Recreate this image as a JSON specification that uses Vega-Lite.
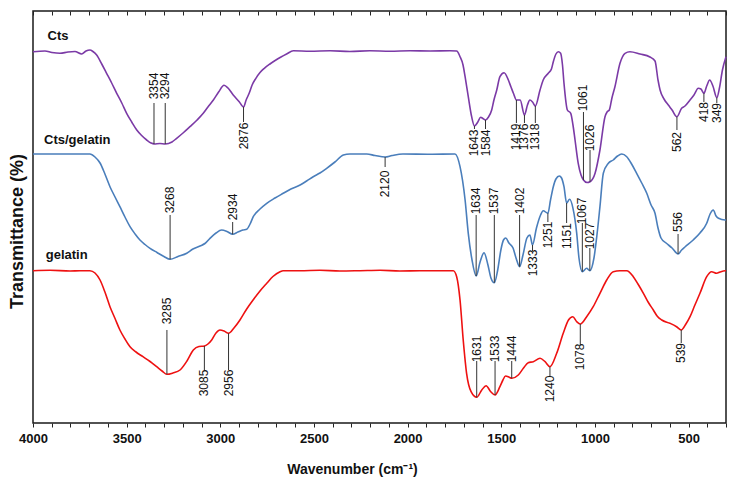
{
"$schema": "https://vega.github.io/schema/vega-lite/v6.json",
"width": 693, "height": 412,
"autosize": {"type": "none"},
"padding": {"left": 33, "top": 11, "right": 11, "bottom": 63},
"background": "white",
"config": {"view": {"stroke": "#1a1a1a", "strokeWidth": 1.5}, "font": "Liberation Sans", "axis": {"grid": false}},
"datasets": {
"spectra": [
{"s":"Cts","wn":4000,"t":371.3},{"s":"Cts","wn":3936,"t":372},{"s":"Cts","wn":3899,"t":370.5},{"s":"Cts","wn":3856,"t":369.7},{"s":"Cts","wn":3813,"t":371},{"s":"Cts","wn":3776,"t":371.5},{"s":"Cts","wn":3740,"t":369},{"s":"Cts","wn":3717,"t":372},{"s":"Cts","wn":3696,"t":373},{"s":"Cts","wn":3680,"t":371.5},{"s":"Cts","wn":3660,"t":368},{"s":"Cts","wn":3633,"t":359},{"s":"Cts","wn":3607,"t":349.7},{"s":"Cts","wn":3580,"t":340},{"s":"Cts","wn":3553,"t":329.7},{"s":"Cts","wn":3526,"t":320},{"s":"Cts","wn":3500,"t":309.7},{"s":"Cts","wn":3473,"t":301},{"s":"Cts","wn":3446,"t":293},{"s":"Cts","wn":3420,"t":287.5},{"s":"Cts","wn":3393,"t":283},{"s":"Cts","wn":3370,"t":280},{"s":"Cts","wn":3354,"t":279},{"s":"Cts","wn":3322,"t":279.5},{"s":"Cts","wn":3294,"t":279},{"s":"Cts","wn":3258,"t":281},{"s":"Cts","wn":3233,"t":284.7},{"s":"Cts","wn":3199,"t":290},{"s":"Cts","wn":3162,"t":296.3},{"s":"Cts","wn":3124,"t":303},{"s":"Cts","wn":3091,"t":309.7},{"s":"Cts","wn":3066,"t":316},{"s":"Cts","wn":3037,"t":323},{"s":"Cts","wn":3009,"t":331},{"s":"Cts","wn":2980,"t":337.7},{"s":"Cts","wn":2959,"t":335},{"s":"Cts","wn":2931,"t":328},{"s":"Cts","wn":2899,"t":321.3},{"s":"Cts","wn":2876,"t":316},{"s":"Cts","wn":2862,"t":323},{"s":"Cts","wn":2846,"t":329.7},{"s":"Cts","wn":2830,"t":338},{"s":"Cts","wn":2810,"t":344.7},{"s":"Cts","wn":2788,"t":350.5},{"s":"Cts","wn":2765,"t":354.7},{"s":"Cts","wn":2735,"t":359},{"s":"Cts","wn":2703,"t":363},{"s":"Cts","wn":2676,"t":366},{"s":"Cts","wn":2646,"t":369},{"s":"Cts","wn":2610,"t":372.3},{"s":"Cts","wn":2521,"t":371.7},{"s":"Cts","wn":2414,"t":372.3},{"s":"Cts","wn":2308,"t":371.5},{"s":"Cts","wn":2201,"t":372.3},{"s":"Cts","wn":2094,"t":371.7},{"s":"Cts","wn":1987,"t":372.3},{"s":"Cts","wn":1880,"t":372},{"s":"Cts","wn":1774,"t":372.3},{"s":"Cts","wn":1738,"t":372},{"s":"Cts","wn":1720,"t":366.3},{"s":"Cts","wn":1704,"t":358},{"s":"Cts","wn":1693,"t":346.3},{"s":"Cts","wn":1676,"t":326.3},{"s":"Cts","wn":1658,"t":306.3},{"s":"Cts","wn":1643,"t":297},{"s":"Cts","wn":1625,"t":301},{"s":"Cts","wn":1610,"t":305.7},{"s":"Cts","wn":1598,"t":304.5},{"s":"Cts","wn":1584,"t":303},{"s":"Cts","wn":1568,"t":306},{"s":"Cts","wn":1551,"t":313},{"s":"Cts","wn":1539,"t":323},{"s":"Cts","wn":1524,"t":333},{"s":"Cts","wn":1507,"t":346.3},{"s":"Cts","wn":1485,"t":350.3},{"s":"Cts","wn":1462,"t":343},{"s":"Cts","wn":1448,"t":336},{"s":"Cts","wn":1435,"t":329.7},{"s":"Cts","wn":1419,"t":323},{"s":"Cts","wn":1399,"t":323},{"s":"Cts","wn":1376,"t":308},{"s":"Cts","wn":1360,"t":318},{"s":"Cts","wn":1347,"t":323},{"s":"Cts","wn":1333,"t":321},{"s":"Cts","wn":1318,"t":317},{"s":"Cts","wn":1293,"t":333},{"s":"Cts","wn":1276,"t":343},{"s":"Cts","wn":1249,"t":349.7},{"s":"Cts","wn":1232,"t":354},{"s":"Cts","wn":1222,"t":361.3},{"s":"Cts","wn":1208,"t":369},{"s":"Cts","wn":1195,"t":371.3},{"s":"Cts","wn":1183,"t":369.7},{"s":"Cts","wn":1173,"t":358},{"s":"Cts","wn":1165,"t":339.7},{"s":"Cts","wn":1147,"t":313},{"s":"Cts","wn":1129,"t":309.7},{"s":"Cts","wn":1117,"t":298},{"s":"Cts","wn":1106,"t":283},{"s":"Cts","wn":1089,"t":259.7},{"s":"Cts","wn":1074,"t":248},{"s":"Cts","wn":1061,"t":243},{"s":"Cts","wn":1042,"t":240.5},{"s":"Cts","wn":1026,"t":241.3},{"s":"Cts","wn":999,"t":249.7},{"s":"Cts","wn":973,"t":273},{"s":"Cts","wn":946,"t":306.3},{"s":"Cts","wn":935,"t":311},{"s":"Cts","wn":923,"t":313},{"s":"Cts","wn":909,"t":325},{"s":"Cts","wn":893,"t":336.3},{"s":"Cts","wn":866,"t":359.7},{"s":"Cts","wn":839,"t":369.7},{"s":"Cts","wn":813,"t":371.3},{"s":"Cts","wn":759,"t":369},{"s":"Cts","wn":706,"t":366},{"s":"Cts","wn":679,"t":362},{"s":"Cts","wn":663,"t":343},{"s":"Cts","wn":652,"t":333},{"s":"Cts","wn":631,"t":324},{"s":"Cts","wn":608,"t":318},{"s":"Cts","wn":588,"t":313},{"s":"Cts","wn":562,"t":306.3},{"s":"Cts","wn":537,"t":314.7},{"s":"Cts","wn":519,"t":317},{"s":"Cts","wn":492,"t":323},{"s":"Cts","wn":471,"t":328},{"s":"Cts","wn":448,"t":334.7},{"s":"Cts","wn":434,"t":334},{"s":"Cts","wn":418,"t":329.7},{"s":"Cts","wn":403,"t":337},{"s":"Cts","wn":387,"t":343},{"s":"Cts","wn":370,"t":337},{"s":"Cts","wn":349,"t":325.3},{"s":"Cts","wn":335,"t":335},{"s":"Cts","wn":319,"t":353},{"s":"Cts","wn":300,"t":366.3},
{"s":"Cts/gelatin","wn":4000,"t":269},{"s":"Cts/gelatin","wn":3696,"t":269},{"s":"Cts/gelatin","wn":3669,"t":266},{"s":"Cts/gelatin","wn":3642,"t":260},{"s":"Cts/gelatin","wn":3616,"t":249},{"s":"Cts/gelatin","wn":3589,"t":236.3},{"s":"Cts/gelatin","wn":3562,"t":226},{"s":"Cts/gelatin","wn":3536,"t":216.3},{"s":"Cts/gelatin","wn":3509,"t":206},{"s":"Cts/gelatin","wn":3482,"t":196.3},{"s":"Cts/gelatin","wn":3455,"t":189},{"s":"Cts/gelatin","wn":3429,"t":183},{"s":"Cts/gelatin","wn":3402,"t":178.5},{"s":"Cts/gelatin","wn":3375,"t":174.7},{"s":"Cts/gelatin","wn":3338,"t":170.5},{"s":"Cts/gelatin","wn":3301,"t":166.5},{"s":"Cts/gelatin","wn":3268,"t":163.7},{"s":"Cts/gelatin","wn":3226,"t":166.5},{"s":"Cts/gelatin","wn":3179,"t":169.7},{"s":"Cts/gelatin","wn":3146,"t":174},{"s":"Cts/gelatin","wn":3108,"t":177},{"s":"Cts/gelatin","wn":3082,"t":179.5},{"s":"Cts/gelatin","wn":3055,"t":184.7},{"s":"Cts/gelatin","wn":3023,"t":190},{"s":"Cts/gelatin","wn":2993,"t":193},{"s":"Cts/gelatin","wn":2964,"t":191.5},{"s":"Cts/gelatin","wn":2934,"t":188.7},{"s":"Cts/gelatin","wn":2906,"t":191},{"s":"Cts/gelatin","wn":2879,"t":193},{"s":"Cts/gelatin","wn":2859,"t":193.7},{"s":"Cts/gelatin","wn":2841,"t":199},{"s":"Cts/gelatin","wn":2824,"t":206.3},{"s":"Cts/gelatin","wn":2788,"t":214},{"s":"Cts/gelatin","wn":2752,"t":219.7},{"s":"Cts/gelatin","wn":2708,"t":225},{"s":"Cts/gelatin","wn":2664,"t":229.7},{"s":"Cts/gelatin","wn":2623,"t":234},{"s":"Cts/gelatin","wn":2574,"t":238},{"s":"Cts/gelatin","wn":2539,"t":242},{"s":"Cts/gelatin","wn":2504,"t":246.3},{"s":"Cts/gelatin","wn":2468,"t":250},{"s":"Cts/gelatin","wn":2432,"t":254.7},{"s":"Cts/gelatin","wn":2388,"t":261},{"s":"Cts/gelatin","wn":2343,"t":268},{"s":"Cts/gelatin","wn":2308,"t":269},{"s":"Cts/gelatin","wn":2218,"t":269},{"s":"Cts/gelatin","wn":2174,"t":267.5},{"s":"Cts/gelatin","wn":2120,"t":266},{"s":"Cts/gelatin","wn":2083,"t":267.5},{"s":"Cts/gelatin","wn":2025,"t":269},{"s":"Cts/gelatin","wn":1880,"t":268.7},{"s":"Cts/gelatin","wn":1747,"t":269},{"s":"Cts/gelatin","wn":1720,"t":256.3},{"s":"Cts/gelatin","wn":1693,"t":223},{"s":"Cts/gelatin","wn":1676,"t":189.7},{"s":"Cts/gelatin","wn":1656,"t":163},{"s":"Cts/gelatin","wn":1634,"t":147},{"s":"Cts/gelatin","wn":1613,"t":161},{"s":"Cts/gelatin","wn":1592,"t":170.3},{"s":"Cts/gelatin","wn":1571,"t":158},{"s":"Cts/gelatin","wn":1555,"t":145},{"s":"Cts/gelatin","wn":1537,"t":140.3},{"s":"Cts/gelatin","wn":1519,"t":153},{"s":"Cts/gelatin","wn":1502,"t":173},{"s":"Cts/gelatin","wn":1488,"t":183},{"s":"Cts/gelatin","wn":1476,"t":185},{"s":"Cts/gelatin","wn":1459,"t":180},{"s":"Cts/gelatin","wn":1437,"t":175},{"s":"Cts/gelatin","wn":1421,"t":165},{"s":"Cts/gelatin","wn":1402,"t":156.3},{"s":"Cts/gelatin","wn":1384,"t":168},{"s":"Cts/gelatin","wn":1363,"t":185},{"s":"Cts/gelatin","wn":1347,"t":188},{"s":"Cts/gelatin","wn":1333,"t":178},{"s":"Cts/gelatin","wn":1312,"t":195},{"s":"Cts/gelatin","wn":1290,"t":208},{"s":"Cts/gelatin","wn":1276,"t":212.3},{"s":"Cts/gelatin","wn":1251,"t":209.7},{"s":"Cts/gelatin","wn":1237,"t":223},{"s":"Cts/gelatin","wn":1222,"t":236.3},{"s":"Cts/gelatin","wn":1208,"t":244},{"s":"Cts/gelatin","wn":1190,"t":247},{"s":"Cts/gelatin","wn":1178,"t":245},{"s":"Cts/gelatin","wn":1165,"t":236.3},{"s":"Cts/gelatin","wn":1151,"t":220},{"s":"Cts/gelatin","wn":1135,"t":223.7},{"s":"Cts/gelatin","wn":1117,"t":214.7},{"s":"Cts/gelatin","wn":1097,"t":189.7},{"s":"Cts/gelatin","wn":1085,"t":165},{"s":"Cts/gelatin","wn":1067,"t":151.3},{"s":"Cts/gelatin","wn":1044,"t":154.7},{"s":"Cts/gelatin","wn":1027,"t":152.3},{"s":"Cts/gelatin","wn":1005,"t":165},{"s":"Cts/gelatin","wn":989,"t":188},{"s":"Cts/gelatin","wn":973,"t":216.3},{"s":"Cts/gelatin","wn":955,"t":249.7},{"s":"Cts/gelatin","wn":928,"t":259.7},{"s":"Cts/gelatin","wn":902,"t":263},{"s":"Cts/gelatin","wn":879,"t":267},{"s":"Cts/gelatin","wn":857,"t":269},{"s":"Cts/gelatin","wn":830,"t":266.3},{"s":"Cts/gelatin","wn":804,"t":259},{"s":"Cts/gelatin","wn":777,"t":249.7},{"s":"Cts/gelatin","wn":750,"t":240},{"s":"Cts/gelatin","wn":723,"t":229.7},{"s":"Cts/gelatin","wn":700,"t":218},{"s":"Cts/gelatin","wn":679,"t":209.7},{"s":"Cts/gelatin","wn":663,"t":195},{"s":"Cts/gelatin","wn":647,"t":185},{"s":"Cts/gelatin","wn":620,"t":180},{"s":"Cts/gelatin","wn":588,"t":175},{"s":"Cts/gelatin","wn":556,"t":169},{"s":"Cts/gelatin","wn":537,"t":173},{"s":"Cts/gelatin","wn":519,"t":176},{"s":"Cts/gelatin","wn":475,"t":183},{"s":"Cts/gelatin","wn":439,"t":190},{"s":"Cts/gelatin","wn":403,"t":199.7},{"s":"Cts/gelatin","wn":385,"t":209},{"s":"Cts/gelatin","wn":368,"t":213},{"s":"Cts/gelatin","wn":353,"t":207},{"s":"Cts/gelatin","wn":340,"t":204.7},{"s":"Cts/gelatin","wn":305,"t":203},{"s":"Cts/gelatin","wn":300,"t":203},
{"s":"gelatin","wn":4000,"t":152.3},{"s":"gelatin","wn":3909,"t":152.7},{"s":"gelatin","wn":3802,"t":152},{"s":"gelatin","wn":3749,"t":152.3},{"s":"gelatin","wn":3696,"t":152.3},{"s":"gelatin","wn":3669,"t":150},{"s":"gelatin","wn":3642,"t":143},{"s":"gelatin","wn":3616,"t":131},{"s":"gelatin","wn":3589,"t":116.3},{"s":"gelatin","wn":3562,"t":104.5},{"s":"gelatin","wn":3536,"t":93},{"s":"gelatin","wn":3509,"t":84},{"s":"gelatin","wn":3482,"t":76.3},{"s":"gelatin","wn":3450,"t":71},{"s":"gelatin","wn":3413,"t":66.3},{"s":"gelatin","wn":3375,"t":61.5},{"s":"gelatin","wn":3340,"t":56.3},{"s":"gelatin","wn":3311,"t":52},{"s":"gelatin","wn":3285,"t":48.7},{"s":"gelatin","wn":3253,"t":50},{"s":"gelatin","wn":3215,"t":53},{"s":"gelatin","wn":3178,"t":62},{"s":"gelatin","wn":3144,"t":73},{"s":"gelatin","wn":3114,"t":76.5},{"s":"gelatin","wn":3085,"t":77},{"s":"gelatin","wn":3066,"t":79},{"s":"gelatin","wn":3046,"t":83},{"s":"gelatin","wn":3023,"t":90},{"s":"gelatin","wn":3002,"t":93},{"s":"gelatin","wn":2980,"t":92},{"s":"gelatin","wn":2956,"t":89.7},{"s":"gelatin","wn":2927,"t":95},{"s":"gelatin","wn":2895,"t":103},{"s":"gelatin","wn":2859,"t":114},{"s":"gelatin","wn":2825,"t":123},{"s":"gelatin","wn":2788,"t":132},{"s":"gelatin","wn":2752,"t":139.7},{"s":"gelatin","wn":2719,"t":146.5},{"s":"gelatin","wn":2681,"t":151.3},{"s":"gelatin","wn":2665,"t":152.3},{"s":"gelatin","wn":2574,"t":152.3},{"s":"gelatin","wn":2468,"t":152.7},{"s":"gelatin","wn":2361,"t":152},{"s":"gelatin","wn":2254,"t":152.3},{"s":"gelatin","wn":2147,"t":152.7},{"s":"gelatin","wn":2041,"t":152},{"s":"gelatin","wn":1934,"t":152.3},{"s":"gelatin","wn":1827,"t":152.3},{"s":"gelatin","wn":1756,"t":152.3},{"s":"gelatin","wn":1738,"t":146.3},{"s":"gelatin","wn":1720,"t":123},{"s":"gelatin","wn":1703,"t":83},{"s":"gelatin","wn":1685,"t":49.7},{"s":"gelatin","wn":1661,"t":31.3},{"s":"gelatin","wn":1631,"t":25.7},{"s":"gelatin","wn":1604,"t":33},{"s":"gelatin","wn":1581,"t":37.3},{"s":"gelatin","wn":1556,"t":31.3},{"s":"gelatin","wn":1533,"t":28},{"s":"gelatin","wn":1507,"t":36.3},{"s":"gelatin","wn":1491,"t":43},{"s":"gelatin","wn":1477,"t":47},{"s":"gelatin","wn":1457,"t":45.7},{"s":"gelatin","wn":1444,"t":44.7},{"s":"gelatin","wn":1409,"t":48},{"s":"gelatin","wn":1382,"t":54.7},{"s":"gelatin","wn":1356,"t":60.3},{"s":"gelatin","wn":1329,"t":61.3},{"s":"gelatin","wn":1293,"t":64.7},{"s":"gelatin","wn":1266,"t":61.3},{"s":"gelatin","wn":1240,"t":56.3},{"s":"gelatin","wn":1204,"t":69.7},{"s":"gelatin","wn":1169,"t":89.7},{"s":"gelatin","wn":1141,"t":103},{"s":"gelatin","wn":1118,"t":106.3},{"s":"gelatin","wn":1097,"t":101.3},{"s":"gelatin","wn":1078,"t":99},{"s":"gelatin","wn":1044,"t":106.3},{"s":"gelatin","wn":1009,"t":116.3},{"s":"gelatin","wn":973,"t":129.7},{"s":"gelatin","wn":937,"t":143},{"s":"gelatin","wn":902,"t":151.3},{"s":"gelatin","wn":866,"t":152.3},{"s":"gelatin","wn":830,"t":152.3},{"s":"gelatin","wn":795,"t":146.3},{"s":"gelatin","wn":770,"t":139},{"s":"gelatin","wn":741,"t":129.7},{"s":"gelatin","wn":716,"t":121},{"s":"gelatin","wn":688,"t":113},{"s":"gelatin","wn":668,"t":107},{"s":"gelatin","wn":643,"t":103},{"s":"gelatin","wn":599,"t":99.7},{"s":"gelatin","wn":564,"t":96.3},{"s":"gelatin","wn":539,"t":93},{"s":"gelatin","wn":514,"t":99},{"s":"gelatin","wn":492,"t":106.3},{"s":"gelatin","wn":466,"t":118},{"s":"gelatin","wn":439,"t":129.7},{"s":"gelatin","wn":403,"t":146.3},{"s":"gelatin","wn":377,"t":151.3},{"s":"gelatin","wn":350,"t":149.7},{"s":"gelatin","wn":332,"t":151},{"s":"gelatin","wn":305,"t":152.3},{"s":"gelatin","wn":300,"t":152.3}
],
"peaks": [
{"s":"Cts","wn":3354,"label":"3354","y1":279,"y2":320,"ly":337},
{"s":"Cts","wn":3294,"label":"3294","y1":279,"y2":320,"ly":337},
{"s":"Cts","wn":2876,"label":"2876","y1":316,"y2":301,"ly":287},
{"s":"Cts","wn":1643,"label":"1643","y1":297,"y2":294,"ly":280},
{"s":"Cts","wn":1584,"label":"1584","y1":303,"y2":294,"ly":280},
{"s":"Cts","wn":1419,"label":"1419","y1":323,"y2":300,"ly":286},
{"s":"Cts","wn":1376,"label":"1376","y1":308,"y2":300,"ly":286},
{"s":"Cts","wn":1318,"label":"1318","y1":317,"y2":300,"ly":286},
{"s":"Cts","wn":1061,"label":"1061","y1":243,"y2":311,"ly":325},
{"s":"Cts","wn":1026,"label":"1026","y1":241.3,"y2":273,"ly":285},
{"s":"Cts","wn":562,"label":"562","y1":306.3,"y2":293,"ly":281},
{"s":"Cts","wn":418,"label":"418","y1":329.7,"y2":321,"ly":311},
{"s":"Cts","wn":349,"label":"349","y1":325.3,"y2":320,"ly":310},
{"s":"Cts/gelatin","wn":3268,"label":"3268","y1":163.7,"y2":208,"ly":223},
{"s":"Cts/gelatin","wn":2934,"label":"2934","y1":188.7,"y2":201,"ly":216},
{"s":"Cts/gelatin","wn":2120,"label":"2120","y1":266,"y2":256,"ly":239},
{"s":"Cts/gelatin","wn":1634,"label":"1634","y1":147,"y2":208,"ly":222},
{"s":"Cts/gelatin","wn":1537,"label":"1537","y1":140.3,"y2":208,"ly":222},
{"s":"Cts/gelatin","wn":1402,"label":"1402","y1":156.3,"y2":208,"ly":222},
{"s":"Cts/gelatin","wn":1333,"label":"1333","y1":178,"y2":172,"ly":160},
{"s":"Cts/gelatin","wn":1251,"label":"1251","y1":209.7,"y2":201,"ly":188},
{"s":"Cts/gelatin","wn":1151,"label":"1151","y1":220,"y2":200,"ly":187},
{"s":"Cts/gelatin","wn":1067,"label":"1067","y1":151.3,"y2":200,"ly":212},
{"s":"Cts/gelatin","wn":1027,"label":"1027","y1":152.3,"y2":175,"ly":187},
{"s":"Cts/gelatin","wn":556,"label":"556","y1":169,"y2":189,"ly":201},
{"s":"gelatin","wn":3285,"label":"3285","y1":48.7,"y2":93,"ly":112},
{"s":"gelatin","wn":3085,"label":"3085","y1":77,"y2":53,"ly":40},
{"s":"gelatin","wn":2956,"label":"2956","y1":89.7,"y2":53,"ly":40},
{"s":"gelatin","wn":1631,"label":"1631","y1":25.7,"y2":62,"ly":74},
{"s":"gelatin","wn":1533,"label":"1533","y1":28,"y2":62,"ly":74},
{"s":"gelatin","wn":1444,"label":"1444","y1":44.7,"y2":62,"ly":74},
{"s":"gelatin","wn":1240,"label":"1240","y1":56.3,"y2":47,"ly":34},
{"s":"gelatin","wn":1078,"label":"1078","y1":99,"y2":78,"ly":66},
{"s":"gelatin","wn":539,"label":"539","y1":93,"y2":80,"ly":70}
],
"names": [
{"name":"Cts","wn":3922,"t":387},
{"name":"Cts/gelatin","wn":3941,"t":283},
{"name":"gelatin","wn":3932,"t":168}
]
},
"layer": [
{
"data": {"name": "spectra"},
"mark": {"type": "line", "strokeWidth": 1.6, "interpolate": "monotone"},
"encoding": {
"x": {"field": "wn", "type": "quantitative", "scale": {"domain": [4000, 300], "nice": false, "zero": false},
"axis": {"orient": "bottom", "values": [4000,3900,3800,3700,3600,3500,3400,3300,3200,3100,3000,2900,2800,2700,2600,2500,2400,2300,2200,2100,2000,1900,1800,1700,1600,1500,1400,1300,1200,1100,1000,900,800,700,600,500,400,300],
"format": "d", "labelExpr": "datum.value % 500 === 0 ? datum.label : ''", "labelOverlap": false, "labelFlush": false,
"labelFontSize": 13, "labelFontWeight": "bold", "labelColor": "#111", "labelPadding": 5,
"tickSize": 4, "tickColor": "#222", "domain": false,
"title": "Wavenumber (cm⁻¹)", "titleFontSize": 14, "titleFontWeight": "bold", "titleColor": "#111",
"titleX": 319, "titleY": 46, "titleAlign": "center", "titleBaseline": "middle"}},
"y": {"field": "t", "type": "quantitative", "scale": {"domain": [0, 412], "nice": false},
"axis": {"title": "Transmittance  (%)", "labels": false, "ticks": false, "domain": false,
"titleFontSize": 18, "titleFontWeight": "bold", "titleColor": "#111", "titleAngle": 270,
"titleX": -16, "titleY": 220, "titleAlign": "center", "titleBaseline": "middle"}},
"color": {"field": "s", "type": "nominal", "scale": {"domain": ["Cts", "Cts/gelatin", "gelatin"], "range": ["#7B3AA6", "#4A7EBB", "#EE1111"]}, "legend": null}
}
},
{
"data": {"name": "names"},
"mark": {"type": "text", "text": ""},
"encoding": {
"x": {"field": "wn", "type": "quantitative", "scale": {"domain": [4000, 300], "nice": false, "zero": false},
"axis": {"orient": "top", "values": [4000,3900,3800,3700,3600,3500,3400,3300,3200,3100,3000,2900,2800,2700,2600,2500,2400,2300,2200,2100,2000,1900,1800,1700,1600,1500,1400,1300,1200,1100,1000,900,800,700,600,500,400,300],
"labels": false, "tickSize": -4, "tickWidth": 1, "tickColor": "#222", "domain": false, "title": null}},
"y": {"field": "t", "type": "quantitative"}
}
},
{
"data": {"name": "peaks"},
"mark": {"type": "rule", "color": "#333", "strokeWidth": 1},
"encoding": {
"x": {"field": "wn", "type": "quantitative", "scale": {"domain": [4000, 300], "nice": false, "zero": false}, "axis": null},
"y": {"field": "y1", "type": "quantitative"},
"y2": {"field": "y2"}
}
},
{
"data": {"name": "peaks"},
"mark": {"type": "text", "angle": 270, "fontSize": 12, "align": "center", "baseline": "middle", "color": "#111"},
"encoding": {
"x": {"field": "wn", "type": "quantitative", "scale": {"domain": [4000, 300], "nice": false, "zero": false}, "axis": null},
"y": {"field": "ly", "type": "quantitative"},
"text": {"field": "label"}
}
},
{
"data": {"name": "names"},
"mark": {"type": "text", "align": "left", "baseline": "middle", "fontSize": 13, "fontWeight": "bold", "color": "#111"},
"encoding": {
"x": {"field": "wn", "type": "quantitative", "scale": {"domain": [4000, 300], "nice": false, "zero": false}, "axis": null},
"y": {"field": "t", "type": "quantitative"},
"text": {"field": "name"}
}
}
],
"resolve": {"scale": {"x": "independent"}, "axis": {"x": "independent"}}
}
